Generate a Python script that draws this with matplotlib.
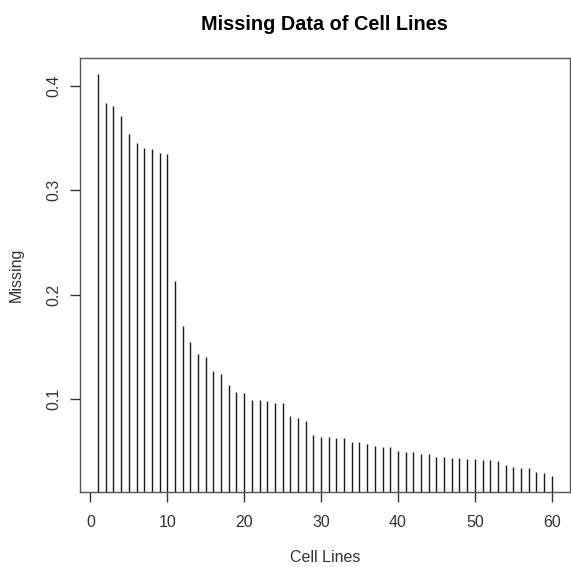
import matplotlib
matplotlib.use("Agg")
import matplotlib.pyplot as plt
import numpy as np

# missing fraction per cell line, sorted
cell_lines = np.arange(1, 61)
missing = [
    0.411, 0.3835, 0.381, 0.371, 0.354, 0.345, 0.341, 0.340, 0.336, 0.335,
    0.213, 0.170, 0.155, 0.143, 0.140, 0.127, 0.124, 0.114, 0.107, 0.106,
    0.099, 0.099, 0.098, 0.0965, 0.0965, 0.084, 0.0815, 0.0795, 0.0655, 0.0636,
    0.0636, 0.0623, 0.0623, 0.0588, 0.0588, 0.0566, 0.0547, 0.0537, 0.0537, 0.0501,
    0.0489, 0.0489, 0.0479, 0.0479, 0.0447, 0.0447, 0.0437, 0.0437, 0.0428, 0.0428,
    0.0418, 0.0415, 0.0408, 0.0367, 0.0348, 0.0341, 0.0341, 0.0300, 0.0290, 0.0268,
]
x_ticks = [0, 10, 20, 30, 40, 50, 60]
y_ticks = [0.1, 0.2, 0.3, 0.4]

plt.rcParams['font.family'] = ['Liberation Sans', 'DejaVu Sans']

fig = plt.figure(figsize=(5.71, 5.67), dpi=100)
ax_box = [0.140, 0.133, 0.858, 0.764]
ax = fig.add_axes(ax_box)

# R-style type="h" plot: vertical lines from 0 up to each value
ax.vlines(cell_lines, 0, missing, color='#1a1a1a', lw=1.0)

# R's default 4% axis padding
xr = cell_lines.max() - cell_lines.min()
ax.set_xlim(cell_lines.min() - 0.04 * xr, cell_lines.max() + 0.04 * xr)
yr = max(missing) - min(missing)
ax.set_ylim(min(missing) - 0.04 * yr, max(missing) + 0.04 * yr)

ax.set_xticks(x_ticks)
ax.set_yticks(y_ticks)
ax.set_yticklabels([f"{v:g}" for v in y_ticks], rotation=90, va='center')
ax.tick_params(direction='out', length=7, width=1, color='#333333',
               labelcolor='#333333', labelsize=11.5)
ax.tick_params(axis='x', pad=10)
ax.tick_params(axis='y', pad=6.5)

for s in ax.spines.values():
    s.set_color('#555555')
    s.set_linewidth(1)

ax.set_xlabel('Cell Lines', fontsize=11.5, color='#333333', labelpad=14.5)
ax.set_ylabel('Missing', fontsize=11.5, color='#333333', labelpad=16)

# title centred over the plot region, like R's main=
fig.text(ax_box[0] + ax_box[2] / 2, 1 - 24 / 567, 'Missing Data of Cell Lines',
         fontsize=14.3, fontweight='bold', ha='center', va='center')

fig.savefig('out.png', dpi=100)
